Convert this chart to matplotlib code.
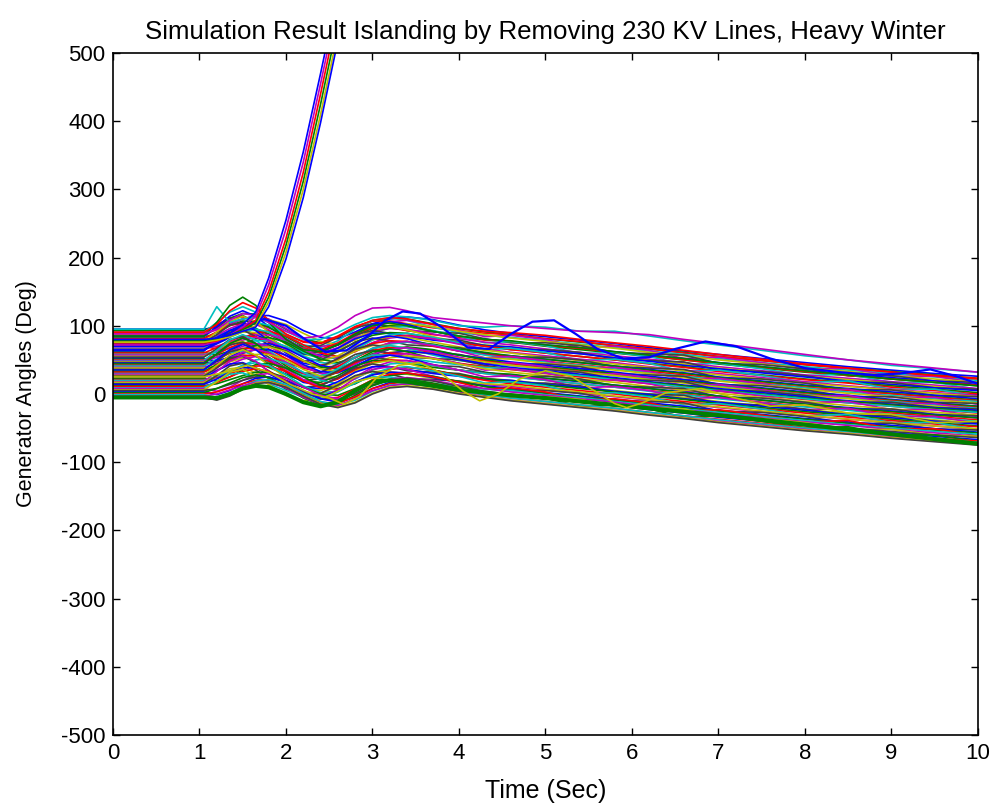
import numpy as np
import matplotlib
matplotlib.use("Agg")
import matplotlib.pyplot as plt

plt.rcParams["font.family"] = ["Liberation Sans", "DejaVu Sans"]
plt.rcParams["axes.unicode_minus"] = False

# MATLAB (pre-2014) default line colour order
color_order = [
    (0, 0, 1),
    (0, 0.5, 0),
    (1, 0, 0),
    (0, 0.75, 0.75),
    (0.75, 0, 0.75),
    (0.75, 0.75, 0),
    (0.25, 0.25, 0.25),
]

t_knots = [0, 1.05, 1.2, 1.35, 1.5, 1.65, 1.8, 2.0, 2.2, 2.4, 2.6, 2.8, 3.0,
           3.2, 3.4, 3.7, 4.0, 4.3, 4.6, 5.0, 5.4, 5.8, 6.2, 6.6, 7.0, 7.5,
           8.0, 8.5, 9.0, 9.5, 10.0]

# swing of each coherent group relative to its pre-fault angle (deg)
swing_a = [0, 0, 8, 18, 25, 24, 16, 2, -12, -18, -10, 4, 14, 18, 17, 10, 3,
           -2, -6, -12, -17, -22, -27, -32, -38, -44, -50, -55, -60, -65, -70]
swing_b = [0, 0, 15, 30, 38, 30, 15, -3, -18, -22, -12, 5, 18, 22, 18, 8, 0,
           -4, -7, -12, -17, -22, -27, -32, -38, -44, -50, -55, -60, -65, -70]
swing_c = [0, 0, 3, 9, 15, 20, 20, 12, -2, -12, -14, -4, 8, 15, 18, 14, 6,
           -1, -6, -11, -16, -21, -27, -32, -37, -43, -49, -55, -60, -65, -69]
swing_d = [0, 0, -4, 2, 12, 20, 22, 15, 2, -10, -15, -8, 5, 14, 16, 12, 5,
           0, -5, -10, -15, -20, -26, -31, -37, -43, -49, -54, -60, -65, -70]
swing_e = [0, 0, 10, 20, 22, 14, 6, -4, -14, -16, -6, 8, 16, 16, 12, 6, 2,
           -2, -4, -10, -14, -20, -25, -31, -36, -42, -48, -54, -59, -64, -68]
swing_f = [0, 0, 6, 14, 22, 26, 22, 8, -8, -18, -16, -4, 10, 18, 20, 14, 6,
           -4, -2, -8, -20, -18, -24, -36, -34, -42, -52, -50, -62, -62, -72]
swing_g = [0, 0, 12, 26, 30, 20, 8, -8, -16, -14, -2, 12, 18, 14, 8, 6, 4,
           -4, -10, -10, -14, -24, -26, -28, -40, -42, -48, -58, -58, -66, -68]
swings = [swing_a, swing_b, swing_c, swing_d, swing_e, swing_f, swing_g]

# pre-fault generator angles (deg) and the swing group of each machine
init_angle = [95, 93, 91, 90, 88, 87, 85, 84, 82, 81, 79, 78, 76, 75, 73, 72,
              70, 69, 67, 66, 64, 63, 61, 60, 58, 57, 55, 54, 52, 51, 50, 49,
              48, 47, 46, 45, 44, 42, 41, 39, 38, 36, 35, 33, 32, 30, 29, 27,
              26, 24, 23, 21, 20, 18, 17, 15, 14, 12, 11, 9, 8, 6, 5, 3, 2, 0,
              -1, -3, -4, -5]
group = [2, 0, 4, 1, 5, 3, 6, 1, 0, 4, 5, 0, 1, 6, 4, 0, 3, 5, 2, 0, 6, 1, 3,
         0, 2, 5, 4, 6, 3, 2, 0, 1, 5, 3, 6, 2, 1, 0, 4, 5, 2, 6, 1, 4, 0, 3,
         5, 1, 6, 4, 3, 2, 5, 1, 4, 6, 0, 2, 5, 4, 3, 6, 2, 3, 5, 2, 3, 2, 3,
         3]

# individual machines read separately
t_blue = [0, 1.05, 1.3, 1.55, 1.75, 2.0, 2.2, 2.45, 2.7, 2.95, 3.15, 3.35,
          3.55, 3.8, 4.1, 4.35, 4.6, 4.85, 5.1, 5.35, 5.6, 5.9, 6.2, 6.5,
          6.85, 7.2, 7.6, 8.0, 8.4, 8.8, 9.1, 9.45, 9.75, 10]
blue_osc = [65, 65, 80, 102, 110, 100, 82, 62, 64, 85, 108, 121, 118, 98, 68,
            66, 88, 106, 108, 88, 66, 52, 54, 66, 77, 70, 52, 38, 32, 28, 30,
            36, 26, 15]
t_yellow = [0, 1.05, 1.3, 1.55, 1.8, 2.05, 2.3, 2.5, 2.67, 2.85, 3.05, 3.3,
            3.55, 3.8, 4.05, 4.24, 4.45, 4.7, 5.0, 5.3, 5.6, 5.8, 5.94, 6.1,
            6.4, 6.8, 7.2, 7.6, 8.0, 8.5, 9.0, 9.5, 10]
yellow_osc = [25, 25, 32, 42, 32, 14, 0, -6, -15, -4, 24, 42, 46, 30, 4, -10,
              0, 22, 34, 26, 2, -14, -20, -14, 2, 8, -6, -18, -16, -28, -30,
              -42, -40]
cyan_top = [95, 95, 128, 105, 110, 112, 105, 92, 80, 80, 90, 102, 112, 115,
            113, 108, 100, 98, 100, 98, 92, 92, 85, 78, 72, 64, 56, 50, 42,
            37, 32]
green_peak = [85, 85, 105, 130, 142, 130, 105, 80, 65, 62, 72, 88, 100, 104,
              100, 92, 85, 80, 78, 72, 68, 62, 57, 52, 46, 40, 34, 28, 22, 17,
              12]
red_peak = [90, 90, 102, 122, 134, 126, 108, 88, 76, 74, 84, 98, 108, 112,
            110, 102, 96, 92, 90, 86, 80, 75, 70, 64, 58, 51, 44, 38, 32, 27,
            22]
magenta_top = [88, 88, 95, 108, 118, 115, 105, 92, 82, 85, 98, 115, 126, 127,
               122, 112, 108, 104, 100, 96, 92, 90, 87, 80, 74, 66, 58, 50,
               44, 38, 32]
green_bottom = [-5, -5, -6, 0, 8, 12, 10, 0, -12, -18, -12, 5, 18, 20, 18, 12,
                6, 2, -2, -6, -11, -16, -21, -26, -31, -38, -45, -52, -59, -66,
                -73]

# machines that lose synchronism
t_run = [0, 1.05, 1.2, 1.35, 1.5, 1.65, 1.8, 2.0, 2.2, 2.4, 2.6, 2.8]
run_1 = [70, 70, 76, 88, 102, 120, 170, 255, 355, 470, 590, 720]
run_2 = [72, 72, 77, 86, 98, 114, 160, 242, 340, 455, 575, 705]
run_3 = [75, 75, 78, 85, 95, 108, 150, 228, 325, 440, 560, 690]
run_4 = [78, 78, 80, 86, 94, 104, 142, 218, 312, 425, 545, 675]
run_5 = [76, 76, 79, 84, 92, 100, 135, 208, 300, 410, 530, 660]
run_6 = [80, 80, 82, 86, 92, 98, 128, 198, 288, 398, 518, 648]
runaway = [run_1, run_2, run_3, run_4, run_5, run_6]
runaway_colors = [0, 4, 2, 1, 5, 0]

fig = plt.figure(figsize=(10.01, 8.1), dpi=100)
ax = fig.add_axes([0.1129, 0.0926, 0.864, 0.842])

k = 0
for a0, g in zip(init_angle, group):
    ax.plot(t_knots, np.array(swings[g]) + a0,
            color=color_order[k % 7], lw=1.2)
    k += 1

specials = [(cyan_top, 3), (green_peak, 1), (red_peak, 2), (magenta_top, 4)]
for vals, c in specials:
    ax.plot(t_knots, vals, color=color_order[c], lw=1.2)
ax.plot(t_knots, green_bottom, color=color_order[1], lw=3)
ax.plot(t_yellow, yellow_osc, color=color_order[5], lw=1.2)
ax.plot(t_blue, blue_osc, color=color_order[0], lw=1.6)

for vals, c in zip(runaway, runaway_colors):
    ax.plot(t_run, vals, color=color_order[c], lw=1.2)

ax.set_xlim(0, 10)
ax.set_ylim(-500, 500)
ax.set_xticks(range(0, 11))
ax.set_yticks(range(-500, 501, 100))
ax.tick_params(direction="in", top=True, right=True, labelsize=16,
               length=5, width=1, pad=5.5)
for s in ax.spines.values():
    s.set_linewidth(1.2)
ax.set_title("Simulation Result Islanding by Removing 230 KV Lines, Heavy Winter",
             fontsize=18.6, pad=10)
ax.set_xlabel("Time (Sec)", fontsize=18, labelpad=11)
ax.set_ylabel("Generator Angles (Deg)", fontsize=15.5, labelpad=17)

fig.savefig("out.png", dpi=100)
